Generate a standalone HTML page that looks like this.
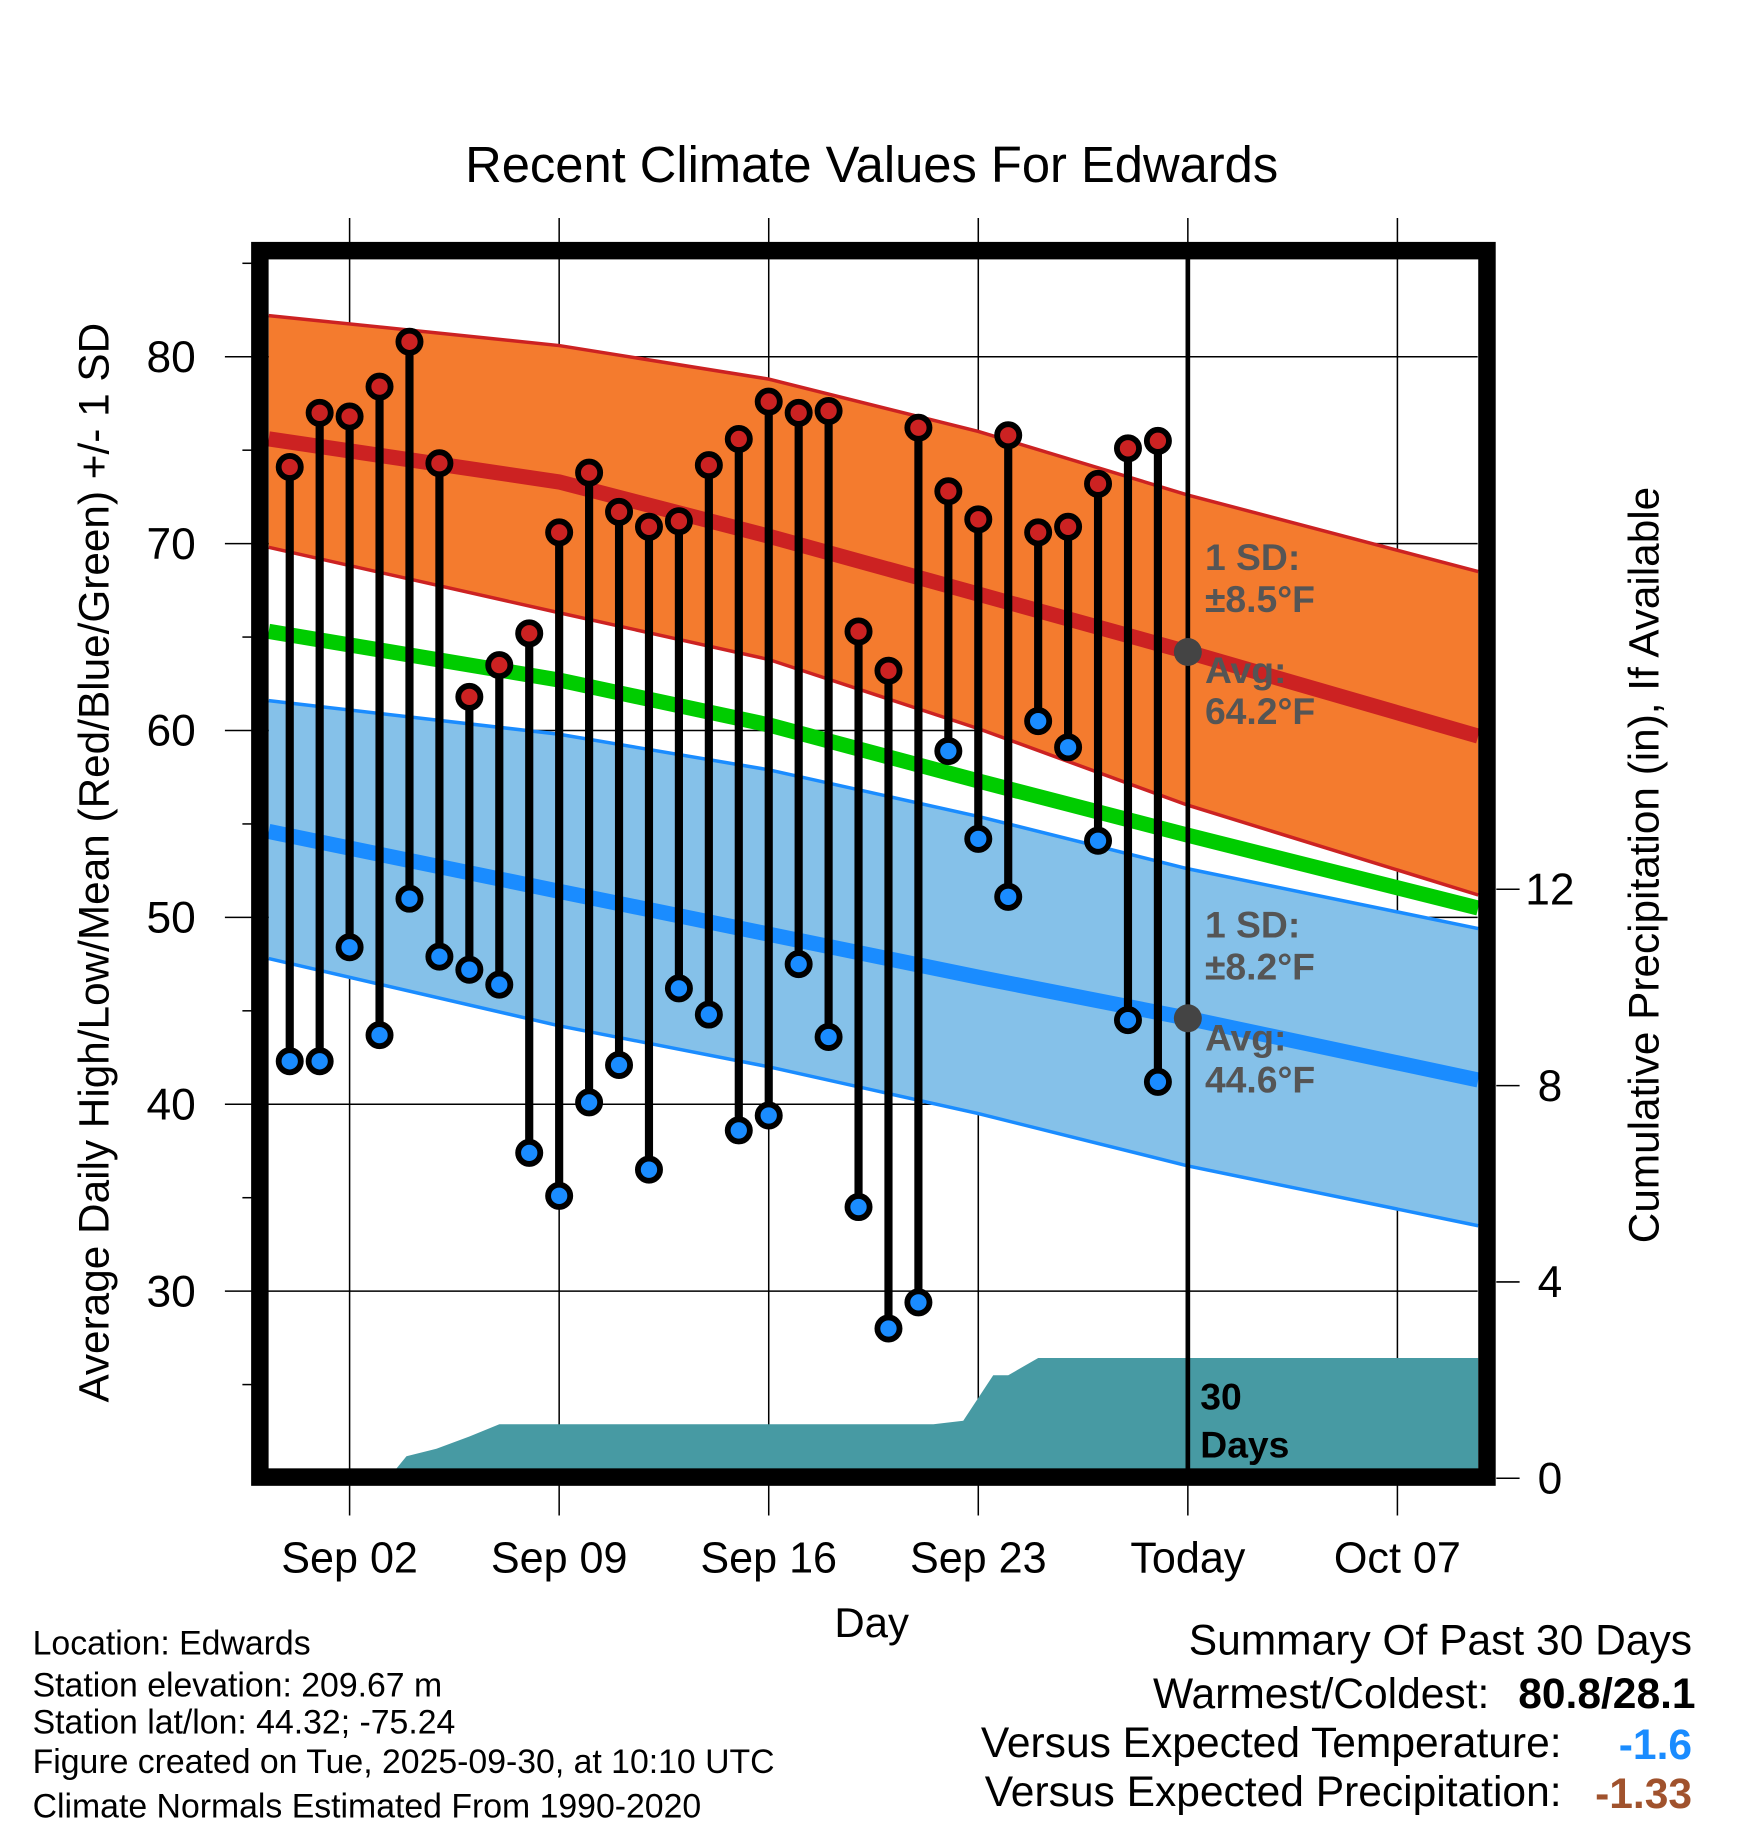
<!DOCTYPE html>
<html><head><meta charset="utf-8"><style>
html,body{margin:0;padding:0;background:#fff}
svg{display:block;font-family:"Liberation Sans",Arial,sans-serif}
</style></head><body>
<svg id="chart" width="1748" height="1828" viewBox="0 0 1500 1568" preserveAspectRatio="none" xmlns="http://www.w3.org/2000/svg">
<text x="748" y="156" font-size="43.5" text-anchor="middle">Recent Climate Values For Edwards</text>
<g id="grid"></g>
<g id="bands"></g>
<g id="precip"></g>
<g id="marks"></g>
<g id="annot"></g>
<rect x="223" y="215" width="1053" height="1052" fill="none" stroke="#000" stroke-width="15"/>
<text transform="translate(93,740) rotate(-90)" font-size="36.3" text-anchor="middle">Average Daily High/Low/Mean (Red/Blue/Green) +/- 1 SD</text>
<text transform="translate(1423,742) rotate(-90)" font-size="36.3" text-anchor="middle">Cumulative Precipitation (in), If Available</text>
<text x="748" y="1404" font-size="36" text-anchor="middle">Day</text>
<g font-size="29">
<text x="28" y="1419">Location: Edwards</text>
<text x="28" y="1455">Station elevation: 209.67 m</text>
<text x="28" y="1487">Station lat/lon: 44.32; -75.24</text>
<text x="28" y="1521">Figure created on Tue, 2025-09-30, at 10:10 UTC</text>
<text x="28" y="1559">Climate Normals Estimated From 1990-2020</text>
</g>
<g font-size="36.5" text-anchor="end">
<text x="1452" y="1419">Summary Of Past 30 Days</text>
<text x="1278" y="1465">Warmest/Coldest:</text>
<text x="1455" y="1465" font-weight="bold">80.8/28.1</text>
<text x="1340" y="1507">Versus Expected Temperature:</text>
<text x="1452" y="1509" font-weight="bold" fill="#1a8cff">-1.6</text>
<text x="1340" y="1549">Versus Expected Precipitation:</text>
<text x="1452" y="1551" font-weight="bold" fill="#a0522d">-1.33</text>
</g>
</svg>
<script>
// ---- data ----
const xTickLabels = ["Sep 02","Sep 09","Sep 16","Sep 23","Today","Oct 07"];
const xTickDays = [0,7,14,21,28,35];
const yTicks = [30,40,50,60,70,80];
const precipTicks = [0,4,8,12];
const normDays = [-2.7,7,14,21,28,37.7];
const highUpper = [82.2,80.6,78.8,76.0,72.6,68.5];
const highMean = [75.6,73.3,70.4,67.3,64.2,59.7];
const highLower = [69.8,66.3,63.8,60.1,56.0,51.2];
const meanLine = [65.3,62.7,60.3,57.3,54.4,50.5];
const lowUpper = [61.6,59.8,57.9,55.4,52.6,49.4];
const lowMean = [54.6,51.4,49.1,46.8,44.6,41.3];
const lowLower = [47.8,44.2,42.0,39.5,36.7,33.5];
const obsDays = [-2,-1,0,1,2,3,4,5,6,7,8,9,10,11,12,13,14,15,16,17,18,19,20,21,22,23,24,25,26,27];
const highs = [74.1,77.0,76.8,78.4,80.8,74.3,61.8,63.5,65.2,70.6,73.8,71.7,70.9,71.2,74.2,75.6,77.6,77.0,77.1,65.3,63.2,76.2,72.8,71.3,75.8,70.6,70.9,73.2,75.1,75.5];
const lows = [42.3,42.3,48.4,43.7,51.0,47.9,47.2,46.4,37.4,35.1,40.1,42.1,36.5,46.2,44.8,38.6,39.4,47.5,43.6,34.5,28.0,29.4,58.9,54.2,51.1,60.5,59.1,54.1,44.5,41.2];
const precipDays = [-2.7,1.3,1.9,2.9,4.0,5.0,19.5,20.5,21.5,22.0,23.0,37.7];
const precipVals = [0,0,0.45,0.6,0.85,1.1,1.1,1.17,2.1,2.1,2.45,2.45];

// ---- axes ----
const X0=231,X1=1268,Y0=222,Y1=1260;
const xs = d => 300 + 25.69*d;
const ys = t => 306 + (80-t)*16.03;
const yp = p => 1268 - p*42.1;
const NS="http://www.w3.org/2000/svg";
function mk(tag, parent, attrs){const e=document.createElementNS(NS,tag);for(const k in attrs)e.setAttribute(k,attrs[k]);document.getElementById(parent).appendChild(e);return e;}
function lineStr(days, vals, f){return days.map((d,i)=>xs(d).toFixed(1)+","+f(vals[i]).toFixed(1)).join(" ");}

// grid
xTickDays.forEach((d,i)=>{
  let l=mk('line','grid',{x1:xs(d),x2:xs(d),y1:187,y2:1300,stroke:'#000','stroke-width':1.3});
  
  
  let t=mk('text','grid',{x:xs(d),y:1349,'font-size':37,'text-anchor':'middle'});
  t.textContent=xTickLabels[i];
  
  
});
yTicks.forEach(v=>{
  let l=mk('line','grid',{x1:193,x2:X1,y1:ys(v),y2:ys(v),stroke:'#000','stroke-width':1.3});
  
  
  let t=mk('text','grid',{x:168,y:ys(v)+13,'font-size':38,'text-anchor':'end'});
  t.textContent=v;
  
  
});
for(let v=25;v<=85;v+=10){
  let l=mk('line','grid',{x1:208,x2:216,y1:ys(v),y2:ys(v),stroke:'#000','stroke-width':1.3});
  
  
}
precipTicks.forEach(p=>{
  let l=mk('line','grid',{x1:1284,x2:1304,y1:yp(p),y2:yp(p),stroke:'#000','stroke-width':1.3});
  
  
  let t=mk('text','grid',{x:1330,y:yp(p)+13,'font-size':38,'text-anchor':'middle'});
  t.textContent=p;
  
  
});

// bands
function band(up,lo,fill,edge,name){
  const pts=lineStr(normDays,up,ys)+" "+normDays.slice().reverse().map((d,i)=>xs(d).toFixed(1)+","+ys(lo[lo.length-1-i]).toFixed(1)).join(" ");
  let p=mk('polygon','bands',{points:pts,fill:fill,stroke:'none'});
  
  
  [up,lo].forEach(a=>{let l=mk('polyline','bands',{points:lineStr(normDays,a,ys),fill:'none',stroke:edge,'stroke-width':3});
    
    });
}
band(highUpper,highLower,'#f47b2e','#cc2222','high-sd-band');
band(lowUpper,lowLower,'#85c1e9','#1a8cff','low-sd-band');
[[highMean,'#cc2222','normal-high-line'],[meanLine,'#00cc00','normal-mean-line'],[lowMean,'#1a8cff','normal-low-line']].forEach(a=>{
  let l=mk('polyline','bands',{points:lineStr(normDays,a[0],ys),fill:'none',stroke:a[1],'stroke-width':13});
  
  
});

// precip
{
  const pts=lineStr(precipDays,precipVals,yp)+` ${xs(precipDays[precipDays.length-1])},${Y1} ${xs(precipDays[0])},${Y1}`;
  let p=mk('polygon','precip',{points:pts,fill:'#479aa3'});
  
  
}

// today line
{
  let l=mk('line','marks',{x1:xs(28),x2:xs(28),y1:Y0,y2:Y1,stroke:'#000','stroke-width':4});
  
  
}

// observations
obsDays.forEach((d,i)=>{
  let s=mk('line','marks',{x1:xs(d),x2:xs(d),y1:ys(highs[i]),y2:ys(lows[i]),stroke:'#000','stroke-width':7});
  
  
});
obsDays.forEach((d,i)=>{
  let h=mk('circle','marks',{cx:xs(d),cy:ys(highs[i]),r:9.5,fill:'#cc2222',stroke:'#000','stroke-width':5});
  
  
  let l=mk('circle','marks',{cx:xs(d),cy:ys(lows[i]),r:9.5,fill:'#1a8cff',stroke:'#000','stroke-width':5});
  
  
});

// annotations
[[highMean[4],'normal-high-dot'],[lowMean[4],'normal-low-dot']].forEach(a=>{
  let c=mk('circle','annot',{cx:xs(28),cy:ys(a[0]),r:12,fill:'#444'});
  
  
});
function txt(x,y,s,fill,name){let t=mk('text','annot',{x:x,y:y,'font-size':32,'font-weight':'bold',fill:fill});t.textContent=s;
  
  }
txt(1034,489,'1 SD:','#555','high-sd-label');
txt(1034,525,'±8.5°F','#555','high-sd-value');
txt(1034,586,'Avg:','#555','high-avg-label');
txt(1034,621,'64.2°F','#555','high-avg-value');
txt(1034,804,'1 SD:','#555','low-sd-label');
txt(1034,840,'±8.2°F','#555','low-sd-value');
txt(1034,901,'Avg:','#555','low-avg-label');
txt(1034,937,'44.6°F','#555','low-avg-value');
txt(1030,1209,'30','#000','days-count');
txt(1030,1250,'Days','#000','days-label');
</script>
</body></html>
